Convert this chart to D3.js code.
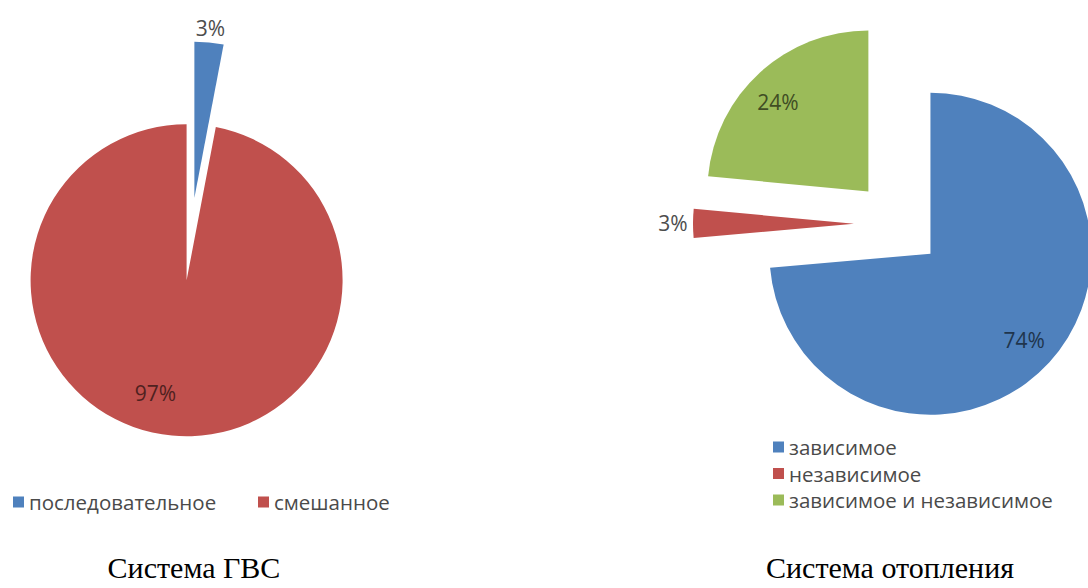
<!DOCTYPE html>
<html>
<head>
<meta charset="utf-8">
<script src="https://cdn.jsdelivr.net/npm/d3@7"></script>
<style>
body { margin: 0; background: #fff; }
</style>
</head>
<body>
<svg id="chart" width="1088" height="588"></svg>
<script>
// Система ГВС
var gvsNames = ["последовательное", "смешанное"];
var gvsValues = [3, 97];

// Система отопления
var heatNames = ["зависимое", "независимое", "зависимое и независимое"];
var heatValues = [73.6, 2.9, 23.5];

var titles = ["Система ГВС", "Система отопления"];
var colors = ["#4f81bd", "#c0504d", "#9bbb59"];

var svg = d3.select("#chart");
var labelFont = "'Open Sans', 'DejaVu Sans', sans-serif";

// layout for each pie
var charts = [
    {names: gvsNames, values: gvsValues, title: titles[0],
     cx: 190.5, cy: 239, r: 156, explode: 41.5, labelR: 0.75, shift: [0, 10],
     legend: "row", legX: [13, 258], legY: 502, titleX: 194},
    {names: heatNames, values: heatValues, title: titles[1],
     cx: 898, cy: 224, r: 161, explode: 44, labelR: 0.79, shift: [0, 0, -3],
     legend: "column", legX: [773], legY: 447, titleX: 890}
];

charts.forEach(function(c) { drawPie(c); });

function drawPie(c) {
    var total = d3.sum(c.values);
    var pie = d3.pie().sort(null).value(function(d) { return d; });
    var arc = d3.arc().innerRadius(0).outerRadius(c.r);
    var arcs = pie(c.values);

    var g = svg.append("g").attr("transform", "translate(" + c.cx + "," + c.cy + ")");

    var slice = g.selectAll(".slice").data(arcs)
        .enter().append("g")
        .attr("class", "slice")
        .attr("transform", function(d) {
            var m = (d.startAngle + d.endAngle) / 2;
            return "translate(" + (Math.sin(m) * c.explode) + "," + (-Math.cos(m) * c.explode) + ")";
        });

    slice.append("path")
        .attr("d", arc)
        .style("fill", function(d, i) { return colors[i]; });

    // data labels
    slice.append("text")
        .attr("x", function(d, i) { return labelPos(d, i)[0]; })
        .attr("y", function(d, i) { return labelPos(d, i)[1]; })
        .attr("text-anchor", "middle")
        .attr("dominant-baseline", "central")
        .style("font-family", labelFont)
        .style("font-size", "21px")
        .style("fill", function(d, i) {
            return isOutside(d) ? "#4d4d4d" : d3.color(colors[i]).darker(2.5);
        })
        .text(function(d) { return Math.round(d.value / total * 100) + "%"; });

    function isOutside(d) {
        return d.value / total < 0.05;
    }

    function labelPos(d, i) {
        var m = (d.startAngle + d.endAngle) / 2 + (c.shift[i] || 0) * Math.PI / 180;
        var rr;
        if (isOutside(d)) {
            rr = c.r + 5 + Math.abs(Math.sin(m)) * 15 + Math.abs(Math.cos(m)) * 8;
        } else {
            rr = c.r * c.labelR;
        }
        return [Math.sin(m) * rr, -Math.cos(m) * rr];
    }

    // legend
    var leg = svg.append("g");
    c.names.forEach(function(name, i) {
        var x, y;
        if (c.legend == "row") {
            x = c.legX[i];
            y = c.legY;
        } else {
            x = c.legX[0];
            y = c.legY + i * 26.5;
        }
        leg.append("rect")
            .attr("x", x).attr("y", y - 5.5)
            .attr("width", 11).attr("height", 11)
            .style("fill", colors[i]);
        leg.append("text")
            .attr("x", x + 16).attr("y", y)
            .attr("dominant-baseline", "central")
            .style("font-family", labelFont)
            .style("font-size", "20.5px")
            .style("fill", "#4a4a4a")
            .text(name);
    });

    // title under the chart
    svg.append("text")
        .attr("x", c.titleX).attr("y", 578)
        .attr("text-anchor", "middle")
        .style("font-family", "'Liberation Serif', 'Times New Roman', serif")
        .style("font-size", "30px")
        .style("fill", "#000")
        .text(c.title);
}
</script>
</body>
</html>
